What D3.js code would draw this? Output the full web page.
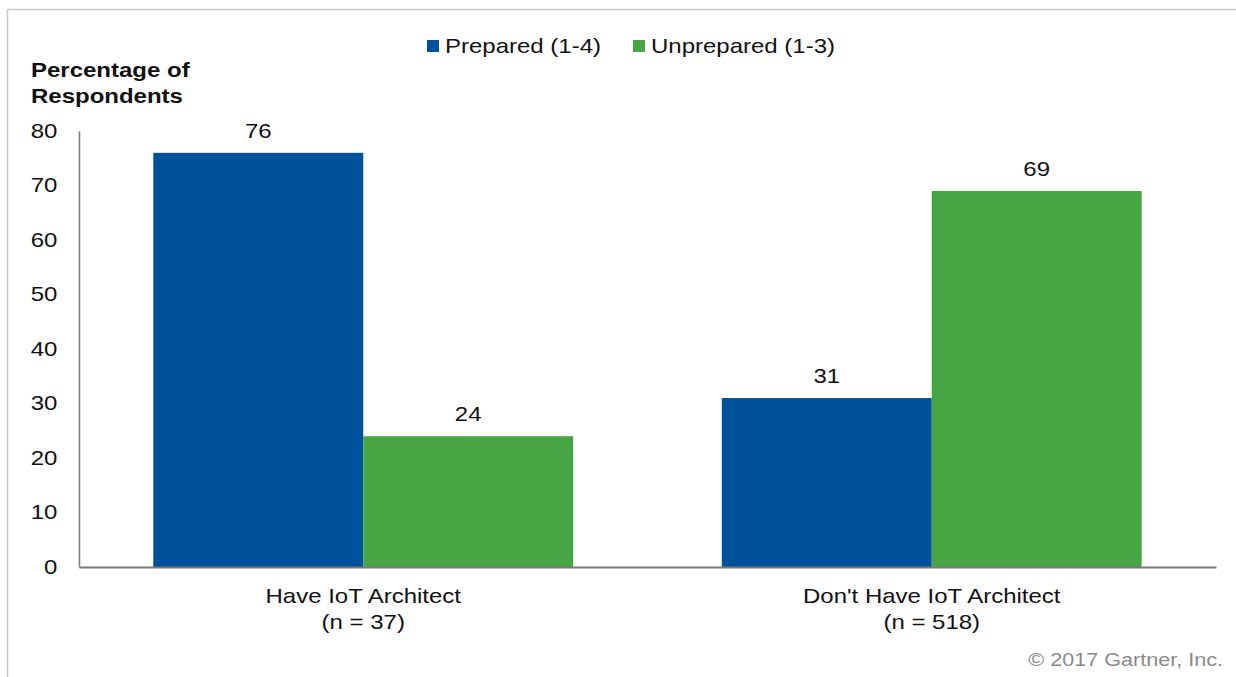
<!DOCTYPE html>
<html>
<head>
<meta charset="utf-8">
<script src="https://cdn.jsdelivr.net/npm/d3@7"></script>
<style>
html,body{margin:0;padding:0;background:#fff;}
text{font-family:"Liberation Sans",Arial,sans-serif;}
</style>
</head>
<body>
<svg id="chart" width="1236" height="677"></svg>
<script>
const categories = ["Have IoT Architect|(n = 37)", "Don't Have IoT Architect|(n = 518)"];
const seriesNames = ["Prepared (1-4)", "Unprepared (1-3)"];
const prepared = [76, 31];
const unprepared = [24, 69];
const yTicks = [0, 10, 20, 30, 40, 50, 60, 70, 80];
const colors = ["#00519B", "#48A543"];

const SX = 1.2; // horizontal stretch of the reference typography
const svg = d3.select("#chart");
// frame
svg.append("path").attr("d","M7.5,677 V9.5 H1236").attr("fill","none").attr("stroke","#c8c8c8").attr("stroke-width",1.5);

function label(x, yy, lines, opts = {}) {
  const t = svg.append("text")
    .attr("transform", `translate(${x},${yy}) scale(${opts.sx || SX},1)`)
    .attr("text-anchor", opts.anchor || "start")
    .attr("font-size", opts.size || 20)
    .attr("font-weight", opts.weight || "normal")
    .attr("fill", opts.fill || "#111");
  [].concat(lines).forEach((p, k) => t.append("tspan").attr("x", 0).attr("y", k * (opts.lh || 26)).text(p));
  return t;
}

const mLeft = 79, mRight = 1216, mTop = 131, mBottom = 567;
const y = d3.scaleLinear().domain([0, 80]).range([mBottom, mTop]);
const x0 = d3.scaleBand().domain(categories).range([mLeft, mRight]).padding(0);
const x1 = d3.scaleBand().domain(seriesNames).range([0, x0.bandwidth()]).paddingInner(0).paddingOuter(0.354);

const values = [prepared, unprepared];
const data = [];
categories.forEach((c, i) => seriesNames.forEach((s, j) => data.push({c, s, j, v: values[j][i]})));

svg.selectAll("rect.bar").data(data).enter().append("rect")
  .attr("class","bar")
  .attr("x", d => x0(d.c) + x1(d.s))
  .attr("width", x1.bandwidth())
  .attr("y", d => y(d.v))
  .attr("height", d => y(0) - y(d.v))
  .attr("fill", d => colors[d.j]);

data.forEach(d => label(x0(d.c) + x1(d.s) + x1.bandwidth()/2, y(d.v) - 15, String(d.v), {anchor: "middle"}));

// y axis
const yAxis = d3.axisLeft(y).tickValues(yTicks).tickSize(0).tickPadding(18);
const gy = svg.append("g").attr("transform", `translate(${mLeft},0)`).call(yAxis);
gy.select(".domain").attr("stroke","#7a7a7a").attr("stroke-width",1.5);
gy.selectAll("text").attr("font-size",20).attr("fill","#111").attr("font-family","Liberation Sans, Arial, sans-serif")
  .attr("transform", `scale(${SX},1)`);

// x axis
const xAxis = d3.axisBottom(x0).tickSize(0).tickFormat("");
const gx = svg.append("g").attr("transform", `translate(0,${mBottom})`).call(xAxis);
gx.select(".domain").attr("stroke","#7a7a7a").attr("stroke-width",2);

categories.forEach(c => label(x0(c) + x0.bandwidth()/2, 603, c.split("|"), {anchor: "middle"}));

// y title
label(31, 77, ["Percentage of", "Respondents"], {weight: "bold", sx: 1.2});

// legend
const legendX = [427, 633];
seriesNames.forEach((s, j) => {
  svg.append("rect").attr("x", legendX[j]).attr("y", 40).attr("width", 12).attr("height", 12).attr("fill", colors[j]);
  label(legendX[j] + 18, 53, s);
});

// copyright
label(1223, 666, "© 2017 Gartner, Inc.", {anchor: "end", size: 18, fill: "#8a8a8a"});
</script>
</body>
</html>
